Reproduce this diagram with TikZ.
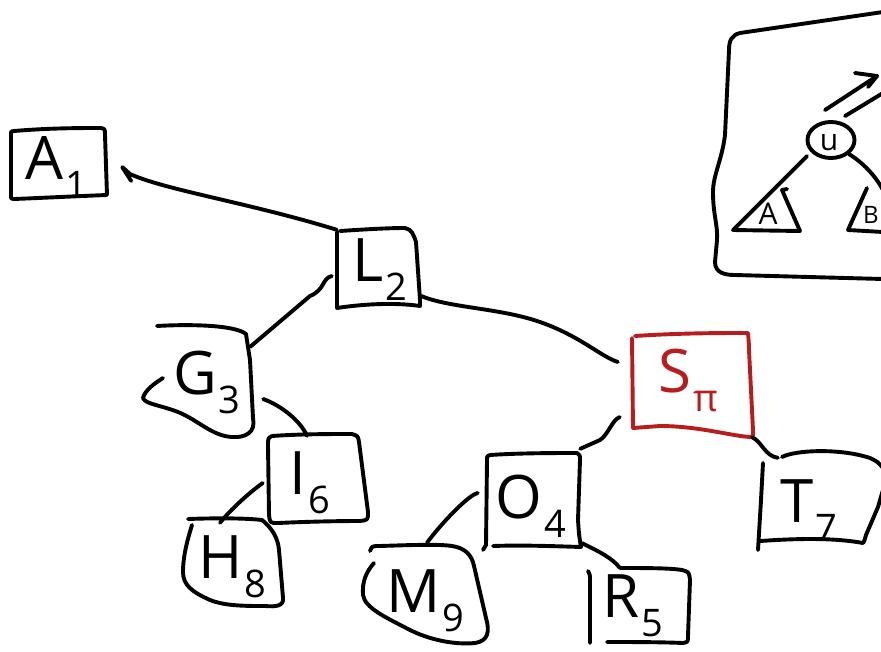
\documentclass[tikz,border=0pt]{standalone}
\usepackage{fontspec}
\setmainfont{Open Sans}
\usetikzlibrary{arrows.meta,shapes.geometric}
\definecolor{sred}{RGB}{185,28,28}
\newcommand{\lbl}[2]{#1\kern2pt\raisebox{-19pt}{\fontsize{38}{38}\selectfont #2}}
\begin{document}
\begin{tikzpicture}[x=1pt,y=-1pt,
  stroke/.style={line width=3.9pt, line cap=round, line join=round},
  conn/.style={stroke},
  boxnode/.style={inner sep=0pt, draw=none, rectangle},
  txt/.style={inner sep=0pt, font=\fontsize{60}{60}\selectfont},
  smalltxt/.style={inner sep=0pt, font=\fontsize{30}{30}\selectfont}]
\path[use as bounding box] (0,0) rectangle (881,651);
\clip (0,0) rectangle (881,651);

% ---------- node areas (named) ----------
\node[boxnode, minimum width=97,  minimum height=72]  (A1) at (58.5,164) {};
\node[boxnode, minimum width=83,  minimum height=78]  (L2) at (378.5,268) {};
\node[boxnode, minimum width=110, minimum height=112] (G3) at (200,382) {};
\node[boxnode, minimum width=100, minimum height=87]  (I6) at (318,478.5) {};
\node[boxnode, minimum width=100, minimum height=91]  (H8) at (233,564.5) {};
\node[boxnode, minimum width=121, minimum height=103] (S)  at (692.5,385.5) {};
\node[boxnode, minimum width=94,  minimum height=95]  (O4) at (533,500.5) {};
\node[boxnode, minimum width=128, minimum height=100] (M9) at (426,595) {};
\node[boxnode, minimum width=100, minimum height=75]  (R5) at (640,605.5) {};
\node[boxnode, minimum width=121, minimum height=95]  (T7) at (820.5,500.5) {};

% ---------- labels ----------
\node[txt] (A1t) at (56,167) {\lbl{A}{1}};
\node[txt] (L2t) at (380,270) {\lbl{L}{2}};
\node[txt] (G3t) at (207,382) {\lbl{G}{3}};
\node[txt] (I6t) at (310,483) {\lbl{I}{6}};
\node[txt] (H8t) at (232,567) {\lbl{H}{8}};
\node[txt, text=sred] (St) at (688,380) {\lbl{S}{π}};
\node[txt] (O4t) at (531,506) {\lbl{O}{4}};
\node[txt] (M9t) at (425,601) {\lbl{M}{9}};
\node[txt] (R5t) at (633,606) {\lbl{R}{5}};
\node[txt] (T7t) at (809,511) {\lbl{T}{7}};

% ---------- hand-drawn outlines ----------
% A1
\draw[stroke] (14,131) .. controls (50,128) and (80,128) .. (101,128)
  .. controls (105,129) .. (105,135) -- (107,195)
  .. controls (80,196) and (40,198) .. (14,199)
  .. controls (11,199) .. (11,195) -- (11,135) .. controls (11,131) .. (14,131);
% L2
\draw[stroke] (340,231) .. controls (370,229) and (390,228) .. (405,228)
  .. controls (412,229) and (414,236) .. (416,242) -- (420,300) -- (420,306)
  .. controls (400,303) and (370,303) .. (337,308) -- (337,232);
% G3 (blob)
\draw[stroke] (157,326) .. controls (190,324) and (235,325) .. (246,334)
  -- (250,360) -- (253,418) .. controls (256,432) and (246,438) .. (232,437)
  .. controls (212,436) and (198,420) .. (178,412)
  .. controls (160,405) and (145,404) .. (143,398)
  .. controls (145,390) and (155,383) .. (163,378);
% I6
\draw[stroke] (272,436) .. controls (300,434) and (330,434) .. (352,434)
  .. controls (358,436) .. (359,442) -- (368,512)
  .. controls (368,520) .. (360,521) .. controls (330,521) and (300,522) .. (278,523)
  .. controls (270,523) .. (269,515) -- (268,446) .. controls (268,438) .. (272,436);
% H8
\draw[stroke] (188,519) .. controls (215,518) and (245,518) .. (262,520)
  .. controls (272,528) and (278,538) .. (279,550)
  -- (283,598) .. controls (284,606) and (276,607) .. (265,606)
  .. controls (245,606) and (225,606) .. (210,600)
  .. controls (192,592) and (183,585) .. (183,572)
  .. controls (183,555) and (188,538) .. (192,525);
% S (red)
\draw[stroke, draw=sred] (635,336) .. controls (680,333) and (720,333) .. (748,333)
  .. controls (749,345) .. (749,350) -- (753,430) .. controls (753,436) .. (752,437)
  .. controls (735,437) and (700,426) .. (660,426) -- (633,428) -- (632,338);
% O4
\draw[stroke] (490,455) .. controls (520,453) and (555,453) .. (577,453)
  .. controls (580,455) .. (580,460) -- (578,520) .. controls (579,535) .. (581,547)
  .. controls (550,546) and (520,545) .. (493,546);
\draw[stroke] (490,455) .. controls (487,456) .. (487,460) -- (486,545) -- (483,550);
% M9
\draw[stroke] (370,551) .. controls (372,546) .. (380,546)
  .. controls (410,545) and (440,544) .. (452,546)
  .. controls (466,548) and (472,556) .. (474,566)
  -- (486,618) .. controls (490,632) and (488,641) .. (475,643)
  .. controls (455,645) and (430,640) .. (410,630)
  .. controls (385,617) and (365,608) .. (363,595)
  .. controls (362,582) and (366,572) .. (374,563);
% R5
\draw[stroke] (620,568) .. controls (645,568) and (670,568) .. (682,570)
  .. controls (689,572) .. (690,580) -- (688,636) .. controls (688,642) .. (683,643)
  .. controls (660,642) and (630,642) .. (607,642);
\draw[stroke] (588,571) .. controls (590,575) .. (590,580) -- (590,643);
% T7
\draw[stroke] (782,457) .. controls (795,450) and (840,448) .. (870,458) .. controls (878,462) .. (883,468);
\draw[stroke] (883,490) .. controls (880,500) .. (878,507) -- (866,535) .. controls (864,542) .. (863,543);
\draw[stroke] (760,541) .. controls (790,539) and (830,537) .. (863,543);
\draw[stroke] (763,463) -- (761,500) -- (758,550);

% ---------- connectors ----------
\draw[conn] ([shift={(0,1)}]L2.north west) .. controls (250,203) and (165,190) .. (130,174)
  -- ([shift={(15,3)}]A1.east) -- ++(9,14);
\draw[conn] ([shift={(-5,8)}]L2.west) .. controls (322,278) and (325,290) .. (310,296)
  -- ([shift={(-5,21)}]G3.north east);
\draw[conn] ([shift={(1,28)}]L2.east) .. controls (450,308) and (500,308) .. (540,322)
  .. controls (580,336) and (600,356) .. ([shift={(-14,-23.5)}]S.west);
\draw[conn] ([shift={(8,17)}]G3.east) .. controls (280,405) and (300,420) .. ([shift={(-11,1)}]I6.north);
\draw[conn] ([shift={(-5,4.5)}]I6.west) .. controls (250,492) and (230,510) .. ([shift={(-13,4)}]H8.north);
\draw[conn] ([shift={(-12,31.5)}]S.west) .. controls (612,420) and (608,435) .. (600,440)
  -- ([shift={(0,-4)}]O4.north east);
\draw[conn] ([shift={(-1,0)}]S.south east) .. controls (762,442) and (765,456) .. ([shift={(18,5)}]T7.north west);
\draw[conn] ([shift={(-8,-7.5)}]O4.west) .. controls (468,495) and (440,525) .. ([shift={(1,-2)}]M9.north);
\draw[conn] ([shift={(2,-5)}]O4.south east) .. controls (600,552) and (612,558) .. ([shift={(30,0)}]R5.north west);

% ---------- inset ----------
\draw[stroke] (883,12) -- (740,33) .. controls (732,35) and (729,40) .. (729,50)
  -- (725,135) .. controls (722,160) and (713,175) .. (713,192)
  .. controls (713,215) and (718,225) .. (717,240) -- (715,262)
  .. controls (715,273) and (725,275) .. (735,275) -- (883,279);
\node[stroke, draw, ellipse, minimum width=47, minimum height=36, inner sep=0pt] (u) at (831,140) {};
\node[smalltxt] (ut) at (829,143) {u};
\coordinate (tA1) at (733,230);
\coordinate (tA2) at (800,231);
\coordinate (tA3) at (782,190);
\node[smalltxt] (tA) at (768,214) {A};
\coordinate (tB1) at (867,188);
\coordinate (tB2) at (848,230);
\coordinate (tB3) at (883,232);
\node[smalltxt, font=\fontsize{24}{24}\selectfont] (tB) at (871,215) {B};
\coordinate (arrE) at (877,76);
\coordinate (outE) at (883,93);
\coordinate (bE) at (883,190);
\draw[conn] ([shift={(-6,-10)}]u.north) -- (arrE);
\draw[conn] ([shift={(-22,-3)}]arrE) -- (arrE) -- ([shift={(-9,11)}]arrE);
\draw[conn] ([shift={(14,-4)}]u.north) -- (outE);
\draw[conn] ([shift={(-6,2)}]u.south west) -- (tA1) -- (tA2) -- (tA3) -- ++(5,-1);
\draw[conn] (u.south east) .. controls (862,162) and (875,175) .. (bE);
\draw[conn] (tB1) -- (tB2) -- (tB3);
\end{tikzpicture}
\end{document}
